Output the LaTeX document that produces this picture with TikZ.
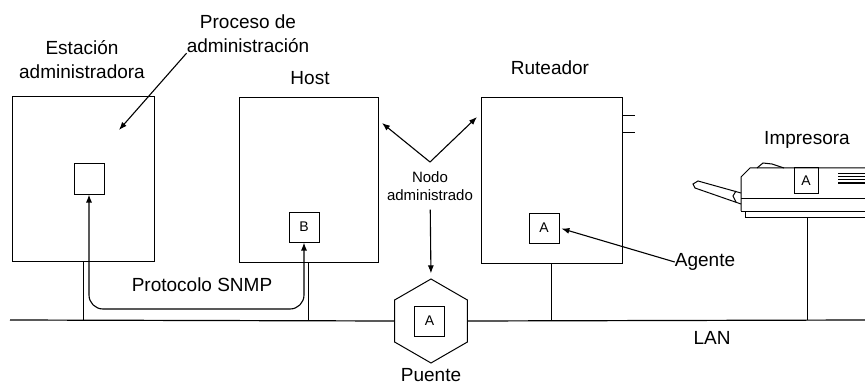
\documentclass[tikz,border=0pt]{standalone}
\usepackage{fontspec}
\setmainfont{Liberation Sans}
\usetikzlibrary{arrows,arrows.meta,positioning,calc,shapes.geometric}

\begin{document}
\begin{tikzpicture}[x=1pt,y=-1pt]
        \tikzstyle{every node}=[font=\fontsize{19}{24}\selectfont,inner sep=0pt]
        \tikzstyle{equipo}=[draw,rectangle,line width=1pt]
        \tikzstyle{modulo}=[draw,rectangle,line width=1pt,minimum size=30pt,font=\fontsize{14}{14}\selectfont]
        \tikzstyle{flecha}=[-{Latex[length=8pt,width=6pt]},line width=1.1pt]
        \useasboundingbox (0,0) rectangle (865,385);

        %%% Equipos
        \node[equipo,minimum width=142pt,minimum height=164pt] (est) at (83,179) {};
        \node[equipo,minimum width=139pt,minimum height=164pt] (host) at (308.5,180) {};
        \node[equipo,minimum width=141pt,minimum height=165pt] (rut) at (551.5,180.5) {};
        \node[draw,line width=1pt,regular polygon,regular polygon sides=6,shape border rotate=30,minimum size=84pt] (puente) at (431,321) {};

        \node[modulo] (proc) at (89,179) {};
        \node[modulo] (hostB) at (304,227) {B};
        \node[modulo] (rutA) at (544,228) {A};
        \node[modulo] (puenteA) at (429.5,321) {A};
        \node[modulo,minimum width=24pt,minimum height=25pt] (prnA) at (806,180.5) {A};

        %%% Textos
        \node[align=center] (estlbl) at (82,60) {Estación\\administradora};
        \node[align=center] (proclbl) at (248,34) {Proceso de\\administración};
        \node (hostlbl) at (310,78) {Host};
        \node (rutlbl) at (550,68) {Ruteador};
        \node (prnlbl) at (807,140) {Impresora};
        \node[align=center,font=\fontsize{15}{18}\selectfont] (nodo) at (430,186) {Nodo\\administrado};
        \node (snmp) at (202,285) {Protocolo SNMP};
        \node (agente) at (705,262) {Agente};
        \node (lan) at (712,338) {LAN};
        \node (puentelbl) at (431,375) {Puente};

        %%% Impresora
        \begin{scope}[line width=1pt]
            \draw (741,211) -- (741,177) -- (750,168) -- (865,168);
            \draw (757,168) -- (763,163) -- (772,164) -- (784,168);
            \draw (741,198) -- (865,198);
            \draw (741,211) -- (865,211);
            \draw (745,211) -- (745,217) -- (865,217);
            \draw (741,193) -- (698,181) -- (693,184) -- (695,188) -- (741,204);
            \draw (736,191) -- (733,196) -- (736,202);
            \foreach \y in {174,177,180,183}
                \draw (838,\y) -- (865,\y);
        \end{scope}
        \coordinate (prn) at (807,217);

        %%% Red
        \coordinate (lanL) at (10,320);
        \coordinate (lanR) at (865,320);
        \draw[line width=1.2pt] (lanL) -- (puente.west);
        \draw[line width=1.2pt] (puente.east) -- (lanR);
        \draw[line width=0.9pt] (est.south) -- (est.south |- lanL);
        \draw[line width=0.9pt] (host.south) -- (host.south |- lanL);
        \draw[line width=0.9pt] (rut.south) -- (rut.south |- lanL);
        \draw[line width=0.9pt] (prn) -- (prn |- lanL);
        \draw[line width=1pt] ($(rut.north east)+(0,18)$) -- ++(12,0);
        \draw[line width=1pt] ($(rut.north east)+(0,35)$) -- ++(12,0);

        %%% Flechas
        \coordinate (procTip) at (119,130);
        \coordinate (nodoV) at (430,162);
        \coordinate (hostTip) at (382,123);
        \coordinate (rutTip) at (477,117);
        \coordinate (bus) at (200,309);
        \draw[flecha] (proclbl.south west) -- (procTip);
        \draw[flecha] (nodoV) -- (hostTip);
        \draw[flecha] (nodoV) -- (rutTip);
        \draw[flecha,shorten <=9pt,shorten >=5pt] (nodo) -- (puente.north);
        \draw[flecha,shorten >=2pt] (agente.west) -- (rutA.east);
        \draw[{Latex[length=8pt,width=6pt]}-{Latex[length=8pt,width=6pt]},line width=1.1pt,rounded corners=14pt]
            (proc.south) |- (bus) -| (hostB.south);
\end{tikzpicture}
\end{document}
